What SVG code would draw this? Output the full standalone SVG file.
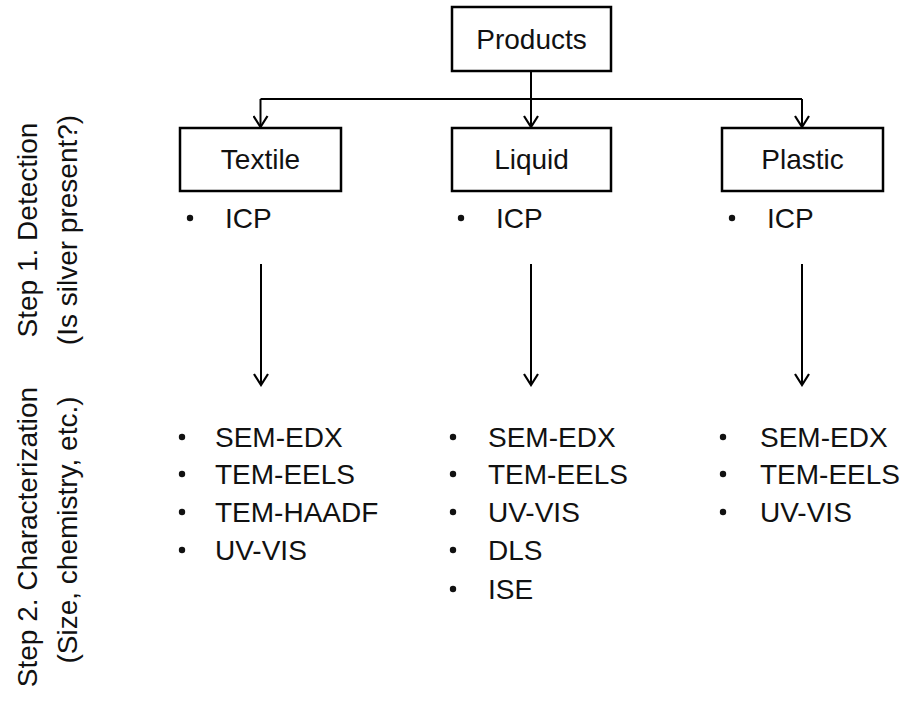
<svg xmlns="http://www.w3.org/2000/svg" width="901" height="703" viewBox="0 0 901 703">
  <defs>
    <marker id="arr" viewBox="-12 -8 14 16" refX="0" refY="0" markerWidth="14" markerHeight="16" markerUnits="userSpaceOnUse" orient="auto">
      <path d="M-11,-7 L0,0 L-11,7" fill="none" stroke="#000" stroke-width="2.2"/>
    </marker>
    <style>
      .box { fill: #fff; stroke: #000; stroke-width: 2.5; }
      .t { font-family: "Liberation Sans", Arial, sans-serif; font-size: 28px; fill: #111; }
      .c { text-anchor: middle; }
      .ln { fill: none; stroke: #000; stroke-width: 2; }
      .dot { fill: #111; }
    </style>
  </defs>
  <rect width="901" height="703" fill="#fff"/>

  <g id="connectors">
    <path class="ln" d="M531,72 V99"/>
    <path class="ln" d="M260.5,99 H802"/>
    <path class="ln" d="M260.5,99 V127" marker-end="url(#arr)"/>
    <path class="ln" d="M531,99 V127" marker-end="url(#arr)"/>
    <path class="ln" d="M802,99 V127" marker-end="url(#arr)"/>
    <path class="ln" d="M261,264 V385" marker-end="url(#arr)"/>
    <path class="ln" d="M531,264 V385" marker-end="url(#arr)"/>
    <path class="ln" d="M802,264 V385" marker-end="url(#arr)"/>
  </g>

  <g id="products">
    <rect class="box" x="452" y="7" width="159" height="64"/>
    <text class="t c" x="531.5" y="49">Products</text>
  </g>

  <g id="textile">
    <rect class="box" x="180" y="128" width="161" height="63"/>
    <text class="t c" x="260.5" y="169">Textile</text>
    <circle class="dot" cx="190" cy="218" r="3.2"/>
    <text class="t" x="225" y="228">ICP</text>
  </g>

  <g id="liquid">
    <rect class="box" x="452" y="128" width="159" height="63"/>
    <text class="t c" x="531.5" y="169">Liquid</text>
    <circle class="dot" cx="461" cy="218" r="3.2"/>
    <text class="t" x="496" y="228">ICP</text>
  </g>

  <g id="plastic">
    <rect class="box" x="722" y="128" width="161" height="63"/>
    <text class="t c" x="802.5" y="169">Plastic</text>
    <circle class="dot" cx="732" cy="218" r="3.2"/>
    <text class="t" x="767" y="228">ICP</text>
  </g>

  <g id="textile-char">
    <circle class="dot" cx="182" cy="437" r="3.2"/>
    <text class="t" x="215" y="447">SEM-EDX</text>
    <circle class="dot" cx="182" cy="474" r="3.2"/>
    <text class="t" x="215" y="484">TEM-EELS</text>
    <circle class="dot" cx="182" cy="512" r="3.2"/>
    <text class="t" x="215" y="522">TEM-HAADF</text>
    <circle class="dot" cx="182" cy="550" r="3.2"/>
    <text class="t" x="215" y="560">UV-VIS</text>
  </g>

  <g id="liquid-char">
    <circle class="dot" cx="453" cy="437" r="3.2"/>
    <text class="t" x="488" y="447">SEM-EDX</text>
    <circle class="dot" cx="453" cy="474" r="3.2"/>
    <text class="t" x="488" y="484">TEM-EELS</text>
    <circle class="dot" cx="453" cy="512" r="3.2"/>
    <text class="t" x="488" y="522">UV-VIS</text>
    <circle class="dot" cx="453" cy="550" r="3.2"/>
    <text class="t" x="488" y="560">DLS</text>
    <circle class="dot" cx="453" cy="589" r="3.2"/>
    <text class="t" x="488" y="599">ISE</text>
  </g>

  <g id="plastic-char">
    <circle class="dot" cx="723" cy="437" r="3.2"/>
    <text class="t" x="760" y="447">SEM-EDX</text>
    <circle class="dot" cx="723" cy="474" r="3.2"/>
    <text class="t" x="760" y="484">TEM-EELS</text>
    <circle class="dot" cx="723" cy="512" r="3.2"/>
    <text class="t" x="760" y="522">UV-VIS</text>
  </g>

  <g id="step1">
    <text class="t c" transform="translate(37,230) rotate(-90)">Step 1. Detection</text>
    <text class="t c" transform="translate(77,230) rotate(-90)">(Is silver present?)</text>
  </g>

  <g id="step2">
    <text class="t c" transform="translate(37,537) rotate(-90)">Step 2. Characterization</text>
    <text class="t c" transform="translate(77,530) rotate(-90)">(Size, chemistry, etc.)</text>
  </g>
</svg>
